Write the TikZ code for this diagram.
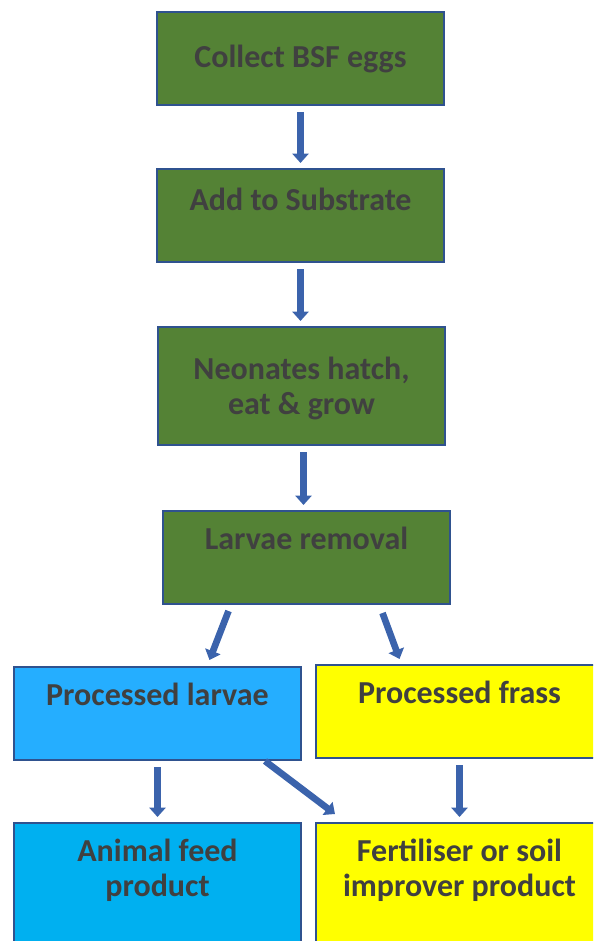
\documentclass[tikz,border=0pt]{standalone}
\usepackage{fontspec}
\setmainfont{Carlito}
\usetikzlibrary{arrows.meta,calc}

\definecolor{boxedge}{HTML}{2F528F}
\definecolor{stepgreen}{HTML}{548235}
\definecolor{larvaeblue}{HTML}{25AEFF}
\definecolor{feedblue}{HTML}{00B0F0}
\definecolor{frassyellow}{HTML}{FFFF00}
\definecolor{labelgray}{HTML}{404040}
\definecolor{arrowblue}{HTML}{3B63AC}

\tikzset{
  box/.style={draw=boxedge, line width=1.5pt, minimum width=215.25pt, inner xsep=0pt, inner ysep=0pt,
    outer sep=0.75pt, align=center, text=labelgray, font=\bfseries\fontsize{24}{26}\selectfont, anchor=north west},
  upper/.style={text height=28.5pt, text depth=41.25pt},
  flow/.style={draw=arrowblue, line width=5pt, -{Triangle[width=12pt,length=7pt]}, shorten <=4.5pt, shorten >=3.75pt},
}

\begin{document}
\begin{tikzpicture}[x=0.75pt,y=0.75pt,yscale=-1,xscale=1]
\useasboundingbox (0,0) rectangle (593,941);
\clip (0,0) rectangle (593,941);

%Box: eggs
\node (eggs) at (156,11) [box, fill=stepgreen, text height=42pt, text depth=27.75pt] {Collect BSF eggs};
%Box: substrate
\node (subst) at (156,168) [box, fill=stepgreen, text height=30.75pt, text depth=39pt] {Add to Substrate};
%Box: neonates
\node (neo) at (157,326) [box, fill=stepgreen, text height=65.25pt, text depth=23.25pt] {Neonates hatch,\\eat \& grow};
%Box: removal
\node (removal) at (162,510) [box, fill=stepgreen, upper] {Larvae removal};
%Box: processed larvae
\node (plarvae) at (13,666) [box, fill=larvaeblue, upper] {Processed larvae};
%Box: processed frass
\node (pfrass) at (315,664) [box, fill=frassyellow, upper] {Processed frass};
%Box: animal feed
\node (feed) at (13,822) [box, fill=feedblue, text height=54.75pt, text depth=60pt] {Animal feed\\product};
%Box: fertiliser
\node (fert) at (315,822) [box, fill=frassyellow, text height=54.75pt, text depth=60pt] {Fertiliser or soil\\improver product};

%Arrows
\draw [flow] (eggs.south) -- (subst.north);
\draw [flow] (subst.south) -- (subst.south |- neo.north);
\draw [flow] ([xshift=1.5pt]neo.south) -- ([xshift=1.5pt]neo.south |- removal.north);
\draw [flow, shorten <=0pt, shorten >=0pt] ($(removal.south)+(-78,6)$) -- ($(plarvae.north)+(52,-6)$);
\draw [flow, shorten <=0pt, shorten >=0pt] ($(removal.south)+(76,8)$) -- ($(pfrass.north)+(-60,-5)$);
\draw [flow] (plarvae.south) -- (feed.north);
\draw [flow, shorten <=0pt, shorten >=0pt] ($(plarvae.south east)+(-37,0)$) -- ($(fert.north west)+(20,-8)$);
\draw [flow] (pfrass.south) -- (pfrass.south |- fert.north);

\end{tikzpicture}
\end{document}
